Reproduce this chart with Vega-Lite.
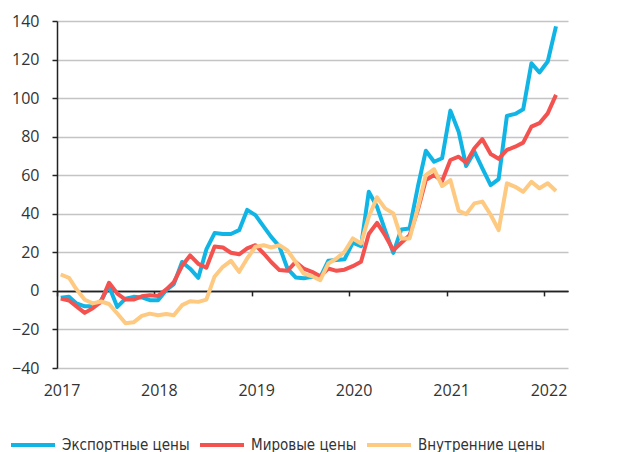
{
  "$schema": "https://vega.github.io/schema/vega-lite/v6.json",
  "autosize": {"type": "none"},
  "padding": {"left": 57, "top": 21, "right": 54, "bottom": 84},
  "width": 511,
  "height": 347,
  "background": "white",
  "config": {"view": {"stroke": null}},
  "data": {"values": [
    {"date": "2017-01-15", "Экспортные цены": -3.5, "Мировые цены": -4, "Внутренние цены": 8.5},
    {"date": "2017-02-15", "Экспортные цены": -3, "Мировые цены": -5, "Внутренние цены": 6.8},
    {"date": "2017-03-15", "Экспортные цены": -6.5, "Мировые цены": -8, "Внутренние цены": 0.8},
    {"date": "2017-04-15", "Экспортные цены": -8, "Мировые цены": -11.4, "Внутренние цены": -4.6},
    {"date": "2017-05-15", "Экспортные цены": -8, "Мировые цены": -9, "Внутренние цены": -6.5},
    {"date": "2017-06-15", "Экспортные цены": -5, "Мировые цены": -5.7, "Внутренние цены": -5.5},
    {"date": "2017-07-15", "Экспортные цены": 2.4, "Мировые цены": 4.2, "Внутренние цены": -6.8},
    {"date": "2017-08-15", "Экспортные цены": -8.3, "Мировые цены": -1.4, "Внутренние цены": -11.7},
    {"date": "2017-09-15", "Экспортные цены": -4, "Мировые цены": -4.5, "Внутренние цены": -16.8},
    {"date": "2017-10-15", "Экспортные цены": -3.1, "Мировые цены": -4.5, "Внутренние цены": -16.3},
    {"date": "2017-11-15", "Экспортные цены": -3.4, "Мировые цены": -2.8, "Внутренние цены": -13},
    {"date": "2017-12-15", "Экспортные цены": -4.8, "Мировые цены": -2.3, "Внутренние цены": -11.8},
    {"date": "2018-01-15", "Экспортные цены": -4.8, "Мировые цены": -2.6, "Внутренние цены": -12.6},
    {"date": "2018-02-15", "Экспортные цены": 0.5, "Мировые цены": 0.8, "Внутренние цены": -12},
    {"date": "2018-03-15", "Экспортные цены": 3.5, "Мировые цены": 4.5, "Внутренние цены": -12.6},
    {"date": "2018-04-15", "Экспортные цены": 15, "Мировые цены": 13, "Внутренние цены": -7.4},
    {"date": "2018-05-15", "Экспортные цены": 11.5, "Мировые цены": 18.4, "Внутренние цены": -5.4},
    {"date": "2018-06-15", "Экспортные цены": 6.8, "Мировые цены": 14, "Внутренние цены": -5.7},
    {"date": "2018-07-15", "Экспортные цены": 21.5, "Мировые цены": 12, "Внутренние цены": -4.5},
    {"date": "2018-08-15", "Экспортные цены": 30, "Мировые цены": 23, "Внутренние цены": 7.5},
    {"date": "2018-09-15", "Экспортные цены": 29.5, "Мировые цены": 22.5, "Внутренние цены": 12.5},
    {"date": "2018-10-15", "Экспортные цены": 29.5, "Мировые цены": 19.8, "Внутренние цены": 15.6},
    {"date": "2018-11-15", "Экспортные цены": 31.5, "Мировые цены": 19, "Внутренние цены": 9.9},
    {"date": "2018-12-15", "Экспортные цены": 42, "Мировые цены": 22, "Внутренние цены": 16.8},
    {"date": "2019-01-15", "Экспортные цены": 39.3, "Мировые цены": 23.7, "Внутренние цены": 22.9},
    {"date": "2019-02-15", "Экспортные цены": 33.3, "Мировые цены": 19.4, "Внутренние цены": 23.7},
    {"date": "2019-03-15", "Экспортные цены": 28, "Мировые цены": 15, "Внутренние цены": 22.5},
    {"date": "2019-04-15", "Экспортные цены": 23, "Мировые цены": 10.8, "Внутренние цены": 23.7},
    {"date": "2019-05-15", "Экспортные цены": 11.6, "Мировые цены": 10.4, "Внутренние цены": 21},
    {"date": "2019-06-15", "Экспортные цены": 7, "Мировые цены": 15, "Внутренние цены": 15},
    {"date": "2019-07-15", "Экспортные цены": 6.5, "Мировые цены": 11.6, "Внутренние цены": 9},
    {"date": "2019-08-15", "Экспортные цены": 7.3, "Мировые цены": 9.9, "Внутренние цены": 7.6},
    {"date": "2019-09-15", "Экспортные цены": 7, "Мировые цены": 7.6, "Внутренние цены": 5.6},
    {"date": "2019-10-15", "Экспортные цены": 15.6, "Мировые цены": 11.6, "Внутренние цены": 14.2},
    {"date": "2019-11-15", "Экспортные цены": 16, "Мировые цены": 10.4, "Внутренние цены": 16.8},
    {"date": "2019-12-15", "Экспортные цены": 16.4, "Мировые цены": 11, "Внутренние цены": 20.3},
    {"date": "2020-01-15", "Экспортные цены": 25, "Мировые цены": 12.8, "Внутренние цены": 27.2},
    {"date": "2020-02-15", "Экспортные цены": 23.2, "Мировые цены": 15.1, "Внутренние цены": 24.6},
    {"date": "2020-03-15", "Экспортные цены": 51.4, "Мировые цены": 29.5, "Внутренние цены": 38.5},
    {"date": "2020-04-15", "Экспортные цены": 43.6, "Мировые цены": 35.3, "Внутренние цены": 48.5},
    {"date": "2020-05-15", "Экспортные цены": 31.5, "Мировые цены": 28.9, "Внутренние цены": 42.8},
    {"date": "2020-06-15", "Экспортные цены": 19.7, "Мировые цены": 21.1, "Внутренние цены": 40.2},
    {"date": "2020-07-15", "Экспортные цены": 31.9, "Мировые цены": 25, "Внутренние цены": 27.2},
    {"date": "2020-08-15", "Экспортные цены": 32.4, "Мировые цены": 28.9, "Внутренние цены": 27.2},
    {"date": "2020-09-15", "Экспортные цены": 54, "Мировые цены": 42, "Внутренние цены": 43},
    {"date": "2020-10-15", "Экспортные цены": 72.7, "Мировые цены": 57.5, "Внутренние цены": 60.1},
    {"date": "2020-11-15", "Экспортные цены": 67, "Мировые цены": 60.1, "Внутренние цены": 63.1},
    {"date": "2020-12-15", "Экспортные цены": 68.8, "Мировые цены": 57, "Внутренние цены": 54.4},
    {"date": "2021-01-15", "Экспортные цены": 93.5, "Мировые цены": 67.9, "Внутренние цены": 57.5},
    {"date": "2021-02-15", "Экспортные цены": 82.6, "Мировые цены": 69.6, "Внутренние цены": 41.6},
    {"date": "2021-03-15", "Экспортные цены": 64.8, "Мировые цены": 66.5, "Внутренние цены": 39.8},
    {"date": "2021-04-15", "Экспортные цены": 72.2, "Мировые цены": 74, "Внутренние цены": 45.4},
    {"date": "2021-05-15", "Экспортные цены": 63.6, "Мировые цены": 78.7, "Внутренние цены": 46.3},
    {"date": "2021-06-15", "Экспортные цены": 54.9, "Мировые цены": 71, "Внутренние цены": 39.5},
    {"date": "2021-07-15", "Экспортные цены": 58, "Мировые цены": 68.5, "Внутренние цены": 31.5},
    {"date": "2021-08-15", "Экспортные цены": 90.8, "Мировые цены": 73.1, "Внутренние цены": 55.8},
    {"date": "2021-09-15", "Экспортные цены": 91.8, "Мировые цены": 74.8, "Внутренние цены": 54},
    {"date": "2021-10-15", "Экспортные цены": 94.2, "Мировые цены": 76.9, "Внутренние цены": 51.4},
    {"date": "2021-11-15", "Экспортные цены": 118.1, "Мировые цены": 85.2, "Внутренние цены": 56.6},
    {"date": "2021-12-15", "Экспортные цены": 113.3, "Мировые цены": 87, "Внутренние цены": 53.2},
    {"date": "2022-01-15", "Экспортные цены": 119, "Мировые цены": 92.1, "Внутренние цены": 55.8},
    {"date": "2022-02-15", "Экспортные цены": 137.2, "Мировые цены": 101.7, "Внутренние цены": 51.8}
  ]},
  "transform": [
    {"fold": ["Экспортные цены", "Мировые цены", "Внутренние цены"], "as": ["series", "value"]}
  ],
  "layer": [
    {
      "mark": {"type": "line", "strokeWidth": 4, "strokeJoin": "round", "strokeCap": "butt"},
      "encoding": {
        "x": {
          "field": "date", "type": "temporal",
          "scale": {"type": "utc", "domain": [{"year": 2017, "month": 1, "date": 1, "utc": true}, {"year": 2022, "month": 4, "date": 1, "utc": true}]},
          "axis": {
            "title": null, "orient": "bottom", "domain": false, "ticks": false, "grid": false,
            "values": [
              {"year": 2017, "month": 1, "date": 1, "utc": true},
              {"year": 2018, "month": 1, "date": 1, "utc": true},
              {"year": 2019, "month": 1, "date": 1, "utc": true},
              {"year": 2020, "month": 1, "date": 1, "utc": true},
              {"year": 2021, "month": 1, "date": 1, "utc": true},
              {"year": 2022, "month": 1, "date": 1, "utc": true}
            ],
            "format": "%Y", "formatType": "utc",
            "labelOffset": 4.5, "labelPadding": 14, "labelFont": "Open Sans", "labelFontSize": 16,
            "labelColor": "#333333", "labelFlush": false, "labelOverlap": false
          }
        },
        "y": {
          "field": "value", "type": "quantitative",
          "scale": {"domain": [-40, 140], "nice": false, "zero": false},
          "axis": {
            "title": null, "values": [-40, -20, 0, 20, 40, 60, 80, 100, 120, 140],
            "domain": true, "domainColor": "#222222", "domainWidth": 1.5,
            "ticks": true, "tickColor": "#222222", "tickSize": 5, "tickWidth": 1.5,
            "grid": true,
            "gridColor": {"condition": {"test": "datum.value === 0", "value": "#222222"}, "value": "#c4c4c4"},
            "gridWidth": 1.5,
            "labelFont": "Open Sans", "labelFontSize": 16, "labelColor": "#333333", "labelPadding": 13
          }
        },
        "color": {
          "field": "series", "type": "nominal",
          "scale": {"domain": ["Экспортные цены", "Мировые цены", "Внутренние цены"], "range": ["#10b5e5", "#f4524f", "#fec980"]},
          "legend": {
            "title": null, "orient": "none", "direction": "horizontal", "legendX": -48, "legendY": 400,
            "symbolType": "stroke", "symbolSize": 1936, "symbolStrokeWidth": 4,
            "labelFont": "DejaVu Sans Condensed, Roboto", "labelFontSize": 15, "labelColor": "#333333",
            "labelOffset": 5, "columnPadding": 2, "labelLimit": 300
          }
        }
      }
    },
    {
      "mark": {"type": "point", "opacity": 0},
      "encoding": {
        "x": {
          "field": "date", "type": "temporal",
          "axis": {
            "title": null, "orient": "bottom", "offset": -77.1, "labels": false, "grid": false,
            "domain": true, "domainColor": "#222222", "domainWidth": 1.5,
            "ticks": true, "tickColor": "#222222", "tickSize": 5, "tickWidth": 1.5,
            "values": [
              {"year": 2017, "month": 1, "date": 1, "utc": true},
              {"year": 2018, "month": 1, "date": 1, "utc": true},
              {"year": 2019, "month": 1, "date": 1, "utc": true},
              {"year": 2020, "month": 1, "date": 1, "utc": true},
              {"year": 2021, "month": 1, "date": 1, "utc": true},
              {"year": 2022, "month": 1, "date": 1, "utc": true}
            ]
          }
        }
      }
    }
  ],
  "resolve": {"axis": {"x": "independent"}}
}
